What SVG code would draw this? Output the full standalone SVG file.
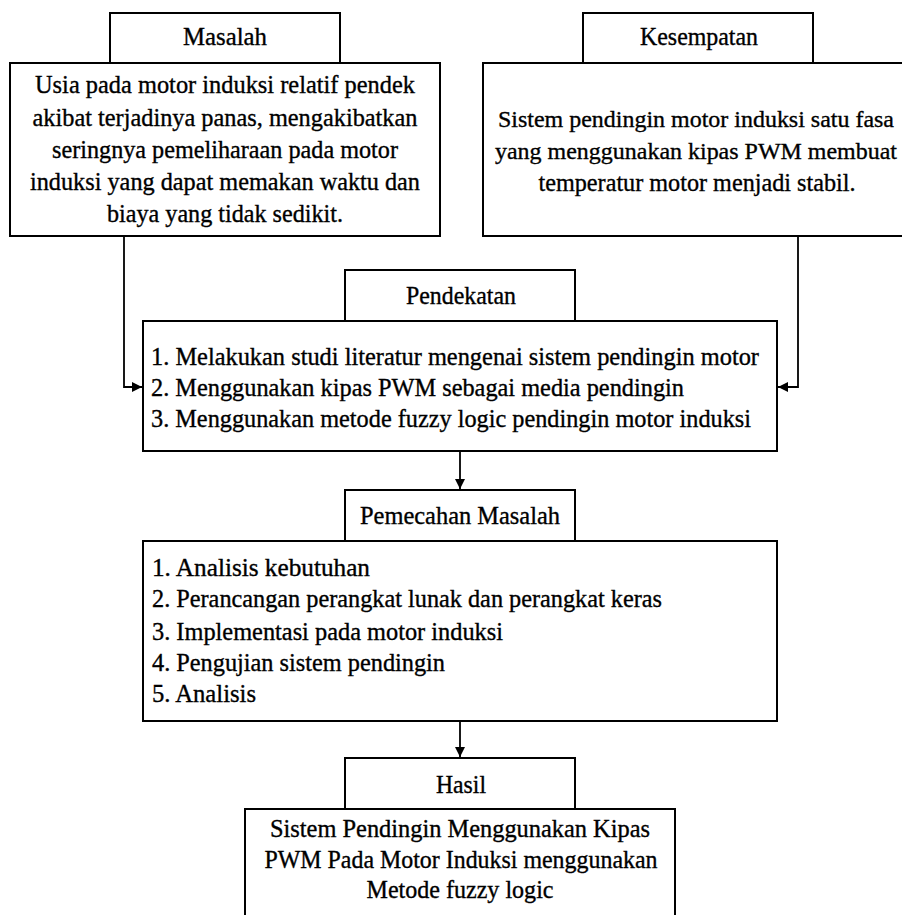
<svg xmlns="http://www.w3.org/2000/svg" width="902" height="915" viewBox="0 0 902 915">
<style>
.box{fill:#fff;stroke:#000;stroke-width:2}
.t{font-family:"Liberation Serif","Times New Roman",Times,serif;font-size:25px;fill:#000;stroke:#000;stroke-width:0.35}
.s{font-size:24px}
.c{text-anchor:middle}
.conn{fill:none;stroke:#000;stroke-width:1.8}
</style>
<defs>
<marker id="ah" viewBox="0 0 10 10" refX="10" refY="5" markerWidth="10" markerHeight="10" markerUnits="userSpaceOnUse" orient="auto">
<path d="M0,0 L10,5 L0,10 z" fill="#000"/>
</marker>
</defs>
<rect width="902" height="915" fill="#fff"/>
<g id="connectors">
<path class="conn" d="M124,236 V387 H142" marker-end="url(#ah)"/>
<path class="conn" d="M798,236 V387 H778" marker-end="url(#ah)"/>
<path class="conn" d="M460,451 V489" marker-end="url(#ah)"/>
<path class="conn" d="M460,721 V757" marker-end="url(#ah)"/>
</g>
<g id="masalah">
<rect class="box" x="110" y="13" width="230" height="50"/>
<rect class="box" x="10" y="63" width="430" height="173"/>
<text class="t c" x="225" y="45" textLength="84" lengthAdjust="spacingAndGlyphs">Masalah</text>
<text class="t c" x="225" y="93" textLength="380" lengthAdjust="spacingAndGlyphs">Usia pada motor induksi relatif pendek</text>
<text class="t c" x="225" y="126" textLength="385" lengthAdjust="spacingAndGlyphs">akibat terjadinya panas, mengakibatkan</text>
<text class="t c" x="225" y="158" textLength="346" lengthAdjust="spacingAndGlyphs">seringnya pemeliharaan pada motor</text>
<text class="t c" x="225" y="190" textLength="390" lengthAdjust="spacingAndGlyphs">induksi yang dapat memakan waktu dan</text>
<text class="t c" x="225" y="222" textLength="236" lengthAdjust="spacingAndGlyphs">biaya yang tidak sedikit.</text>
</g>
<g id="kesempatan">
<rect class="box" x="583" y="13" width="230" height="50"/>
<rect class="box" x="483" y="63" width="440" height="173"/>
<text class="t c" x="699" y="45" textLength="118" lengthAdjust="spacingAndGlyphs">Kesempatan</text>
<text class="t s c" x="696" y="127" textLength="396" lengthAdjust="spacingAndGlyphs">Sistem pendingin motor induksi satu fasa</text>
<text class="t s c" x="696" y="159" textLength="402" lengthAdjust="spacingAndGlyphs">yang menggunakan kipas PWM membuat</text>
<text class="t c" x="697" y="191" textLength="317" lengthAdjust="spacingAndGlyphs">temperatur motor menjadi stabil.</text>
</g>
<g id="pendekatan">
<rect class="box" x="345" y="270" width="230" height="51"/>
<rect class="box" x="143" y="321" width="634" height="130"/>
<text class="t c" x="461" y="304" textLength="110" lengthAdjust="spacingAndGlyphs">Pendekatan</text>
<text class="t" x="151" y="365" textLength="608" lengthAdjust="spacingAndGlyphs">1. Melakukan studi literatur mengenai sistem pendingin motor</text>
<text class="t" x="151" y="396" textLength="533" lengthAdjust="spacingAndGlyphs">2. Menggunakan kipas PWM sebagai media pendingin</text>
<text class="t" x="151" y="427" textLength="600" lengthAdjust="spacingAndGlyphs">3. Menggunakan metode fuzzy logic pendingin motor induksi</text>
</g>
<g id="pemecahan">
<rect class="box" x="345" y="490" width="230" height="51"/>
<rect class="box" x="143" y="541" width="634" height="180"/>
<text class="t c" x="460" y="524" textLength="200" lengthAdjust="spacingAndGlyphs">Pemecahan Masalah</text>
<text class="t" x="152" y="576" textLength="218" lengthAdjust="spacingAndGlyphs">1. Analisis  kebutuhan</text>
<text class="t" x="152" y="607" textLength="510" lengthAdjust="spacingAndGlyphs">2. Perancangan perangkat lunak dan perangkat keras</text>
<text class="t" x="152" y="640" textLength="351" lengthAdjust="spacingAndGlyphs">3. Implementasi pada motor induksi</text>
<text class="t" x="152" y="671" textLength="293" lengthAdjust="spacingAndGlyphs">4. Pengujian sistem pendingin</text>
<text class="t" x="152" y="702" textLength="104" lengthAdjust="spacingAndGlyphs">5. Analisis</text>
</g>
<g id="hasil">
<rect class="box" x="345" y="758" width="230" height="51"/>
<rect class="box" x="245" y="809" width="430" height="120"/>
<text class="t c" x="461" y="793" textLength="50" lengthAdjust="spacingAndGlyphs">Hasil</text>
<text class="t c" x="460" y="837" textLength="380" lengthAdjust="spacingAndGlyphs">Sistem Pendingin Menggunakan Kipas</text>
<text class="t c" x="461" y="868" textLength="393" lengthAdjust="spacingAndGlyphs">PWM Pada Motor Induksi menggunakan</text>
<text class="t c" x="460" y="898" textLength="187" lengthAdjust="spacingAndGlyphs">Metode fuzzy logic</text>
</g>
</svg>
